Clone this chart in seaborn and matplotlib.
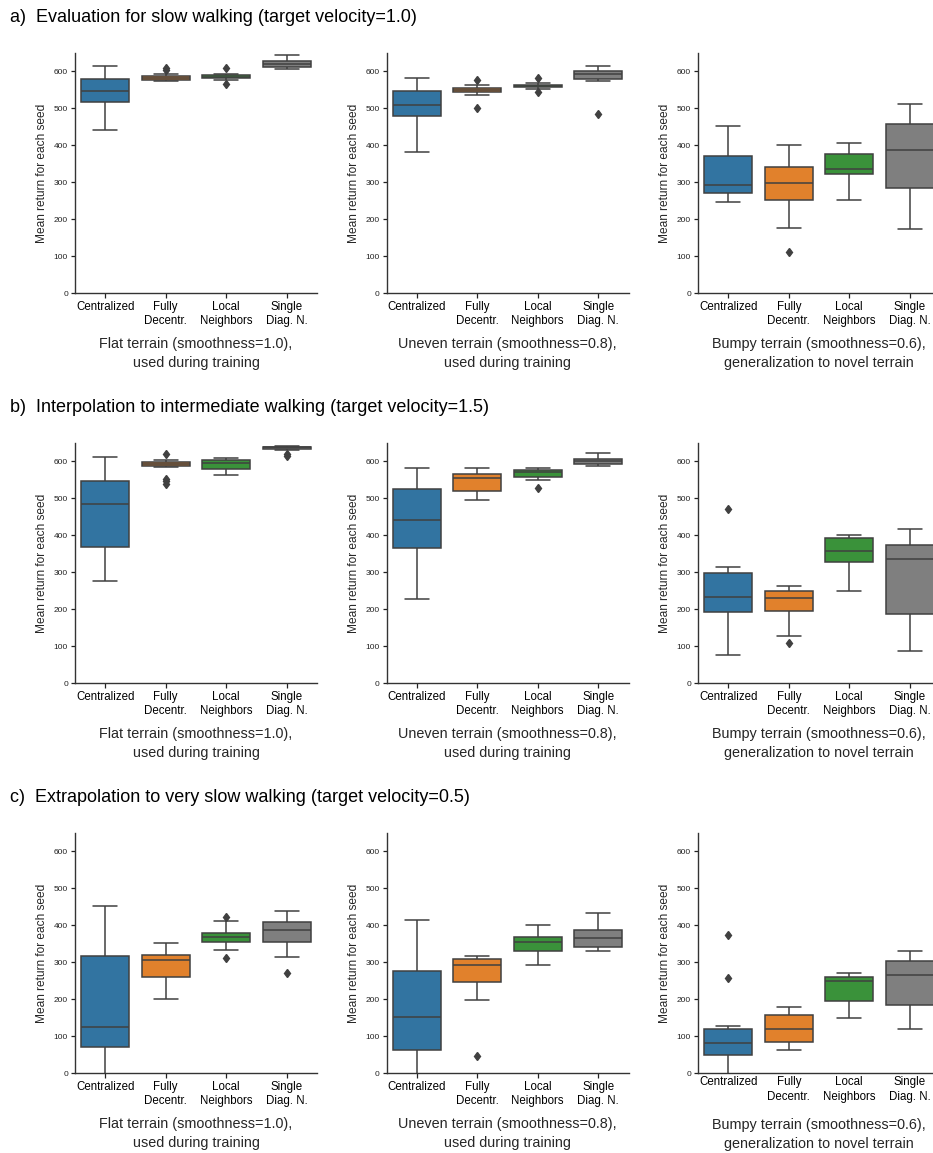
import numpy as np
import pandas as pd
import matplotlib
matplotlib.use("Agg")
import matplotlib.pyplot as plt
import seaborn as sns

# ---------------- data ----------------
methods = ["Centralized", "Fully\nDecentr.", "Local\nNeighbors", "Single\nDiag. N."]
colors = ["#1f77b4", "#ff7f0e", "#2ca02c", "#7f7f7f"]

row_titles = [
    "a)  Evaluation for slow walking (target velocity=1.0)",
    "b)  Interpolation to intermediate walking (target velocity=1.5)",
    "c)  Extrapolation to very slow walking (target velocity=0.5)",
]
col_titles = [
    "Flat terrain (smoothness=1.0),\nused during training",
    "Uneven terrain (smoothness=0.8),\nused during training",
    "Bumpy terrain (smoothness=0.6),\ngeneralization to novel terrain",
]

# Mean return for each seed, per method (order as in `methods`)
slow_flat = [
    [442, 495, 517, 535, 548, 565, 580, 600, 614],
    [573, 575, 577, 578, 581, 582, 583, 584, 586, 587, 592, 604, 610],
    [565, 578, 582, 584, 585, 588, 591, 594, 609],
    [606, 610, 613, 617, 621, 625, 629, 636, 644],
]
slow_uneven = [
    [383, 440, 479, 495, 508, 530, 548, 565, 581],
    [501, 537, 544, 547, 549, 552, 556, 563, 577],
    [545, 553, 557, 559, 560, 562, 564, 569, 582],
    [486, 575, 580, 587, 592, 597, 601, 608, 615],
]
slow_bumpy = [
    [246, 260, 272, 285, 292, 330, 371, 410, 452],
    [111, 175, 252, 280, 298, 320, 341, 370, 402],
    [253, 300, 322, 330, 336, 355, 377, 390, 406],
    [173, 240, 285, 340, 388, 420, 457, 490, 513],
]
inter_flat = [
    [277, 330, 369, 430, 484, 520, 548, 590, 613],
    [540, 546, 553, 585, 588, 590, 592, 593, 594, 595, 596, 597, 599, 601, 603, 605, 619],
    [563, 572, 580, 590, 597, 601, 604, 607, 610],
    [616, 620, 630, 634, 635, 636, 638, 639, 639.5, 640, 641, 642, 643],
]
inter_uneven = [
    [227, 300, 366, 410, 441, 490, 525, 560, 583],
    [496, 510, 521, 540, 554, 560, 565, 575, 581],
    [529, 551, 558, 566, 571, 574, 576, 579, 581],
    [587, 590, 594, 599, 602, 605, 607, 615, 622],
]
inter_bumpy = [
    [76, 150, 193, 215, 234, 270, 299, 315, 472],
    [107, 127, 196, 215, 229, 240, 250, 258, 262],
    [250, 300, 327, 345, 358, 380, 394, 398, 401],
    [86, 140, 187, 280, 335, 360, 373, 395, 416],
]
vslow_flat = [
    [-20, 40, 70, 100, 125, 200, 318, 400, 453],
    [200, 240, 261, 290, 306, 312, 320, 340, 351],
    [311, 332, 355, 362, 367, 372, 379, 413, 422],
    [270, 313, 356, 375, 387, 400, 409, 425, 439],
]
vslow_uneven = [
    [-20, 30, 63, 110, 151, 210, 275, 350, 415],
    [46, 198, 246, 270, 292, 300, 308, 314, 318],
    [293, 315, 330, 345, 355, 362, 368, 385, 401],
    [330, 335, 340, 352, 365, 375, 387, 410, 433],
]
vslow_bumpy = [
    [-20, 20, 40, 50, 60, 70, 80, 95, 110, 118, 128, 258, 375],
    [62, 75, 85, 100, 119, 140, 157, 170, 178],
    [150, 180, 195, 230, 249, 255, 259, 266, 272],
    [118, 150, 185, 230, 266, 290, 303, 318, 330],
]

panels = [
    [slow_flat, slow_uneven, slow_bumpy],
    [inter_flat, inter_uneven, inter_bumpy],
    [vslow_flat, vslow_uneven, vslow_bumpy],
]
yticks = [0, 100, 200, 300, 400, 500, 600]

# ---------------- figure ----------------
sns.set_theme(style="ticks")
plt.rcParams["font.family"] = ["Liberation Sans", "DejaVu Sans"]

W, H = 933, 1153
fig = plt.figure(figsize=(W / 100, H / 100), dpi=100)

col_left = [75, 386.5, 698]
ax_w = 242
row_top = [53, 443, 833]
ax_h = 240
title_y = [17, 407, 797]

line_gray = "#404040"

for r in range(3):
    fig.text(10 / W, 1 - title_y[r] / H, row_titles[r], fontsize=13,
             va="center", ha="left", color="black")
    for c in range(3):
        left = col_left[c] / W
        bottom = 1 - (row_top[r] + ax_h) / H
        ax = fig.add_axes([left, bottom, ax_w / W, ax_h / H])
        vals = panels[r][c]
        df = pd.DataFrame({
            "method": [m for m, v in zip(methods, vals) for _ in v],
            "value": [x for v in vals for x in v],
        })
        sns.boxplot(data=df, x="method", y="value", hue="method", order=methods,
                    hue_order=methods, palette=colors, saturation=0.75,
                    legend=False, ax=ax, width=0.8, linewidth=1.1,
                    linecolor=line_gray,
                    flierprops=dict(marker="d", markersize=4.5,
                                    markerfacecolor=line_gray,
                                    markeredgecolor=line_gray))
        ax.set_ylim(0, 650)
        ax.set_xlim(-0.5, 3.5)
        ax.set_yticks(yticks)
        ax.tick_params(axis="y", labelsize=6, length=3, width=0.9, pad=2,
                       colors="#222222", labelcolor="#222222")
        special = (r == 2 and c == 2)
        ax.tick_params(axis="x", labelsize=8.3, length=0 if special else 3.5,
                       width=0.9, pad=2.5 if special else 2,
                       colors="#222222", labelcolor="black")
        for lab in ax.get_xticklabels():
            lab.set_linespacing(1.25)
        ax.set_ylabel("Mean return for each seed", fontsize=8.6, labelpad=4)
        ax.set_xlabel(col_titles[c], fontsize=10.4,
                      labelpad=11 if special else 7, linespacing=1.45)
        for s in ["left", "bottom"]:
            ax.spines[s].set_linewidth(1.0)
            ax.spines[s].set_color("#333333")
        sns.despine(ax=ax)

fig.savefig("out.png", dpi=100)
